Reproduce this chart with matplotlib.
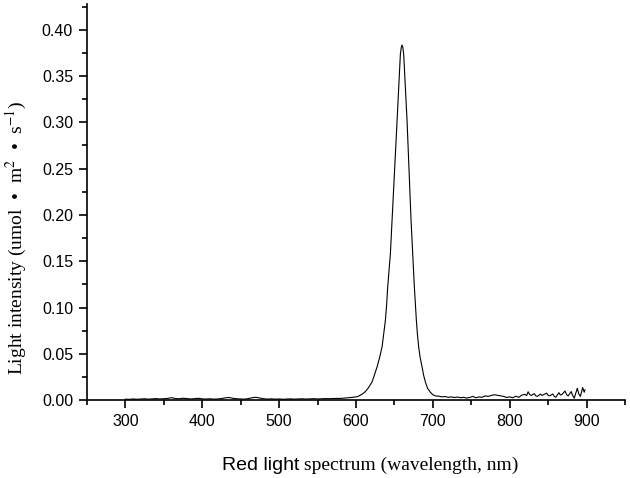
import matplotlib
matplotlib.use('Agg')
import matplotlib.pyplot as plt
from matplotlib.ticker import MultipleLocator

# wavelength (nm) and intensity
base_wl = [300, 305, 310, 315, 320, 325, 330, 335, 340, 345, 350, 355, 360, 365,
           370, 375, 380, 385, 390, 395, 400, 405, 410, 415, 420, 425, 430, 435,
           440, 445, 450, 455, 460, 465, 470, 475, 480, 485, 490, 495, 500, 505,
           510, 515, 520, 525, 530, 535, 540, 545, 550, 555, 560, 565, 570, 575]
base_val = [0.0010, 0.0008, 0.0012, 0.0009, 0.0011, 0.0014, 0.0010, 0.0013, 0.0016, 0.0012,
            0.0015, 0.0018, 0.0026, 0.0017, 0.0014, 0.0020, 0.0016, 0.0012, 0.0015, 0.0019,
            0.0013, 0.0011, 0.0014, 0.0010, 0.0012, 0.0016, 0.0024, 0.0028, 0.0019, 0.0014,
            0.0012, 0.0010, 0.0016, 0.0026, 0.0030, 0.0022, 0.0014, 0.0011, 0.0013, 0.0010,
            0.0012, 0.0009, 0.0011, 0.0013, 0.0010, 0.0012, 0.0014, 0.0011, 0.0013, 0.0015,
            0.0012, 0.0014, 0.0016, 0.0015, 0.0017, 0.0018]

peak_wl = [580, 585, 590, 595, 601.5, 605, 608.5, 612, 616, 621, 624, 627.5, 630.8,
           634, 636, 638.3, 640, 641.3, 643, 644.8, 647, 649.1, 651.3, 653.5, 655.6,
           657.8, 659, 660, 661, 662.1, 664.3, 666.5, 668.2, 669.9, 671.7, 673.8, 675,
           676, 677.3, 678.6, 680, 681.6, 683.5, 686, 688, 690.3, 693, 696.8]
peak_val = [0.0018, 0.0021, 0.0025, 0.0029, 0.0036, 0.0050, 0.0066, 0.0090, 0.0130,
            0.0197, 0.0270, 0.0359, 0.0460, 0.0575, 0.0710, 0.0862, 0.1040, 0.1221,
            0.1400, 0.1581, 0.1940, 0.2299, 0.2658, 0.3017, 0.3376, 0.3736, 0.3810,
            0.3835, 0.3810, 0.3736, 0.3376, 0.3017, 0.2658, 0.2299, 0.1940, 0.1581,
            0.1400, 0.1221, 0.1040, 0.0862, 0.0710, 0.0575, 0.0460, 0.0359, 0.0270,
            0.0197, 0.0130, 0.0085]

tail_wl = [700, 704, 708, 712, 716, 720, 724, 728, 732, 736, 740, 744, 748, 752,
           756, 760, 764, 768, 772, 776, 780, 784, 788, 792, 796, 800, 804, 808,
           812, 816, 820, 822, 824, 826, 828, 832, 834, 836, 840, 842, 844, 848,
           850, 852, 856, 858, 860, 864, 866, 868, 872, 874, 876, 880, 882, 884,
           888, 890, 892, 895, 897, 898]
tail_val = [0.0058, 0.0044, 0.0042, 0.0035, 0.0038, 0.0030, 0.0034, 0.0028, 0.0033,
            0.0026, 0.0030, 0.0022, 0.0028, 0.0040, 0.0025, 0.0034, 0.0030, 0.0045,
            0.0040, 0.0050, 0.0058, 0.0052, 0.0045, 0.0040, 0.0028, 0.0035, 0.0025,
            0.0042, 0.0030, 0.0055, 0.0062, 0.0048, 0.0090, 0.0060, 0.0050, 0.0070,
            0.0045, 0.0040, 0.0065, 0.0050, 0.0058, 0.0075, 0.0052, 0.0045, 0.0066,
            0.0040, 0.0030, 0.0080, 0.0055, 0.0060, 0.0098, 0.0060, 0.0045, 0.0092,
            0.0050, 0.0020, 0.0128, 0.0065, 0.0040, 0.0135, 0.0085, 0.0110]

wl = base_wl + peak_wl + tail_wl
val = base_val + peak_val + tail_val

plt.rcParams['mathtext.fontset'] = 'stix'

fig = plt.figure(figsize=(6.3, 4.78), dpi=100)
ax = fig.add_axes([0.138, 0.163, 0.854, 0.829])

ax.plot(wl, val, color='black', lw=0.8)

ax.set_xlim(250, 950)
ax.set_ylim(0, 0.428)
ax.xaxis.set_major_locator(MultipleLocator(100))
ax.xaxis.set_minor_locator(MultipleLocator(50))
ax.yaxis.set_major_locator(MultipleLocator(0.05))
ax.yaxis.set_minor_locator(MultipleLocator(0.025))
ax.yaxis.set_major_formatter(plt.FuncFormatter(lambda v, p: f'{v:.2f}'))

for s in ['top', 'right']:
    ax.spines[s].set_visible(False)
for s in ['left', 'bottom']:
    ax.spines[s].set_linewidth(1.2)

ax.tick_params(which='major', direction='out', length=6, width=1.2,
               labelsize=11.5, pad=4)
ax.tick_params(which='minor', direction='out', length=3.5, width=1.2)
for t in ax.get_xticklabels() + ax.get_yticklabels():
    t.set_fontfamily('Liberation Sans')

ax.set_ylabel('Light intensity (umol  •  m$^{2}$  •  s$^{-1}$)',
              fontfamily='Liberation Serif', fontsize=14)
ax.yaxis.set_label_coords(-0.108, 0.41)

# x label mixes two fonts
t1 = fig.text(222 / 630, 1 - 470 / 478, 'Red light', fontfamily='Liberation Sans',
              fontsize=14, va='baseline', ha='left')
ax.annotate(' spectrum (wavelength, nm)', xy=(1, 0), xycoords=t1,
            va='bottom', ha='left', fontfamily='Liberation Serif', fontsize=14)

plt.savefig('out.png', dpi=100)
